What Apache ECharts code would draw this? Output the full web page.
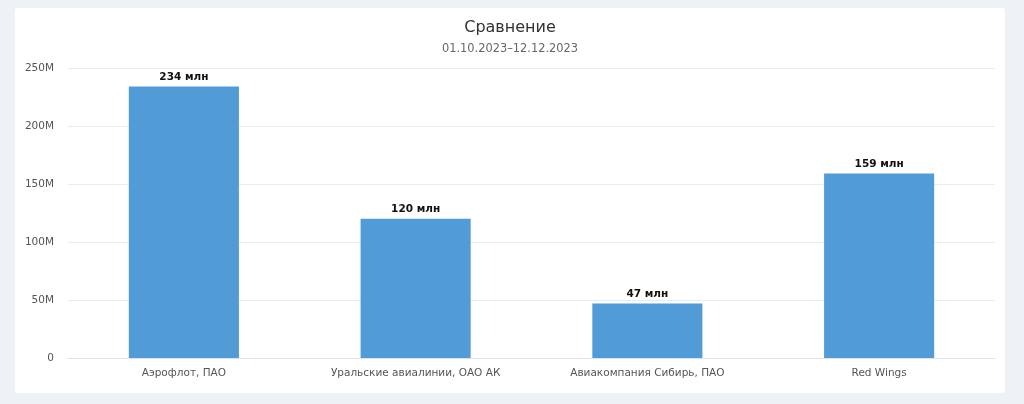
<!DOCTYPE html>
<html><head><meta charset="utf-8">
<script src="https://cdn.jsdelivr.net/npm/echarts@6/dist/echarts.min.js"></script>
<style>
html,body{margin:0;padding:0;background:#eff2f5;width:1024px;height:404px;overflow:hidden;}
#card{position:absolute;left:15px;top:8px;width:990px;height:385px;background:#fff;border-radius:3px;}
#chart{width:990px;height:385px;}
</style></head><body>
<div id="card"><div id="chart"></div></div>
<script>
const categories = ["Аэрофлот, ПАО", "Уральские авиалинии, ОАО АК", "Авиакомпания Сибирь, ПАО", "Red Wings"];
const values = [234000000, 120000000, 47000000, 159000000];
const yTickMax = 250000000;
const yTickStep = 50000000;
const titleText = "Сравнение";
const subtitleText = "01.10.2023–12.12.2023";

const FONT = "DejaVu Sans";
const chart = echarts.init(document.getElementById('chart'));
chart.setOption({
  animation: false,
  textStyle: {fontFamily: FONT},
  title: {
    text: titleText, subtext: subtitleText, left: 'center', top: 7, itemGap: 8,
    textStyle: {fontFamily: FONT, fontSize: 16, fontWeight: 'normal', color: '#333'},
    subtextStyle: {fontFamily: FONT, fontSize: 11.4, color: '#666'}
  },
  grid: {left: 53, right: 10, top: 60, bottom: 35},
  xAxis: {
    type: 'category', data: categories,
    axisLine: {lineStyle: {color: '#dde3ea'}},
    axisTick: {show: false},
    axisLabel: {color: '#555', fontSize: 10.5, margin: 10, fontFamily: FONT}
  },
  yAxis: {
    type: 'value', min: 0, max: yTickMax, interval: yTickStep,
    axisLine: {show: false}, axisTick: {show: false},
    splitLine: {lineStyle: {color: '#e8ebef'}},
    axisLabel: {color: '#555', fontSize: 10.5, margin: 14, fontFamily: FONT,
      formatter: v => v === 0 ? '0' : (v / 1e6) + 'M'}
  },
  series: [{
    type: 'bar', data: values, barWidth: '47.5%',
    itemStyle: {color: '#519bd6'},
    label: {show: true, position: 'top', distance: 4, color: '#111', fontWeight: 'bold', fontSize: 10.5, fontFamily: FONT,
      formatter: p => Math.round(p.value / 1e6) + ' млн'}
  }]
});
</script></body></html>
